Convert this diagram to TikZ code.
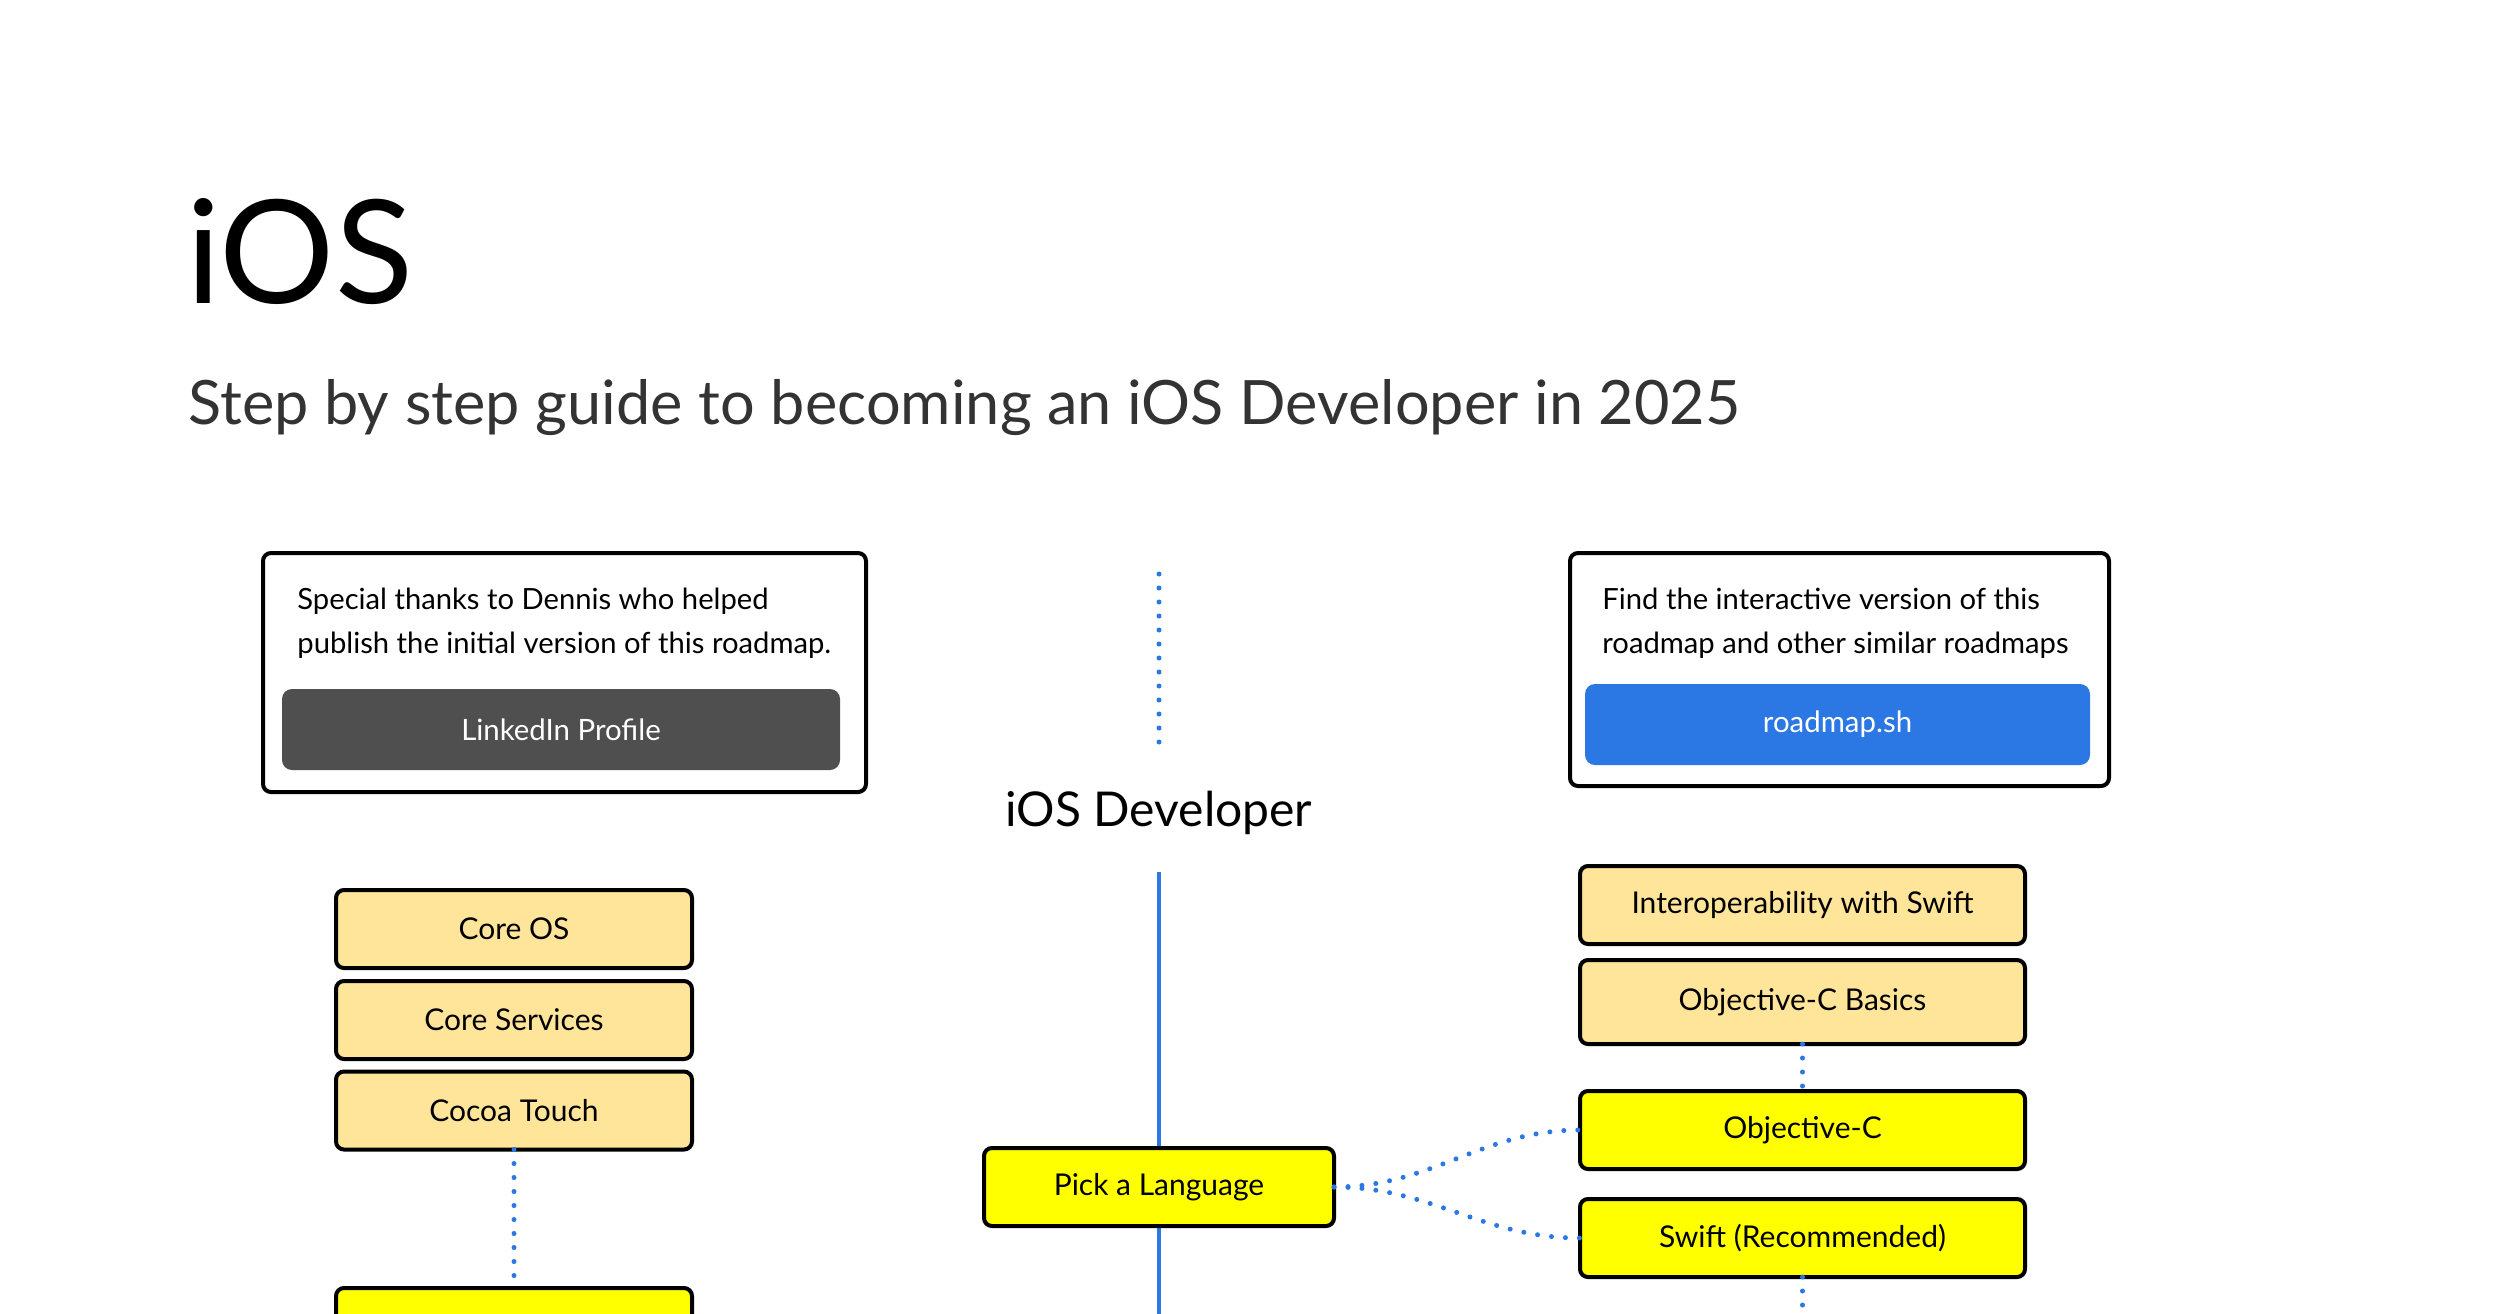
\documentclass[tikz,border=0pt]{standalone}
\usepackage{fontspec}
\setmainfont{Lato}
\definecolor{rmblue}{HTML}{2B78E4}
\definecolor{rmorange}{HTML}{FFE599}
\definecolor{rmyellow}{HTML}{FFFF00}
\definecolor{rmgray}{HTML}{4F4F4F}
\definecolor{subgray}{HTML}{333333}
\tikzset{
  topic/.style={draw=black, line width=2pt, rounded corners=4pt, fill=rmyellow,
    minimum width=178pt, minimum height=39pt, inner sep=0pt, outer sep=0pt,
    font=\fontsize{15}{17}\selectfont},
  subtopic/.style={topic, fill=rmorange},
  infobox/.style={draw=black, line width=2pt, rounded corners=4pt, fill=white, inner sep=0pt},
  button/.style={rounded corners=5pt, inner sep=0pt, text=white, font=\fontsize{14.7}{16}\selectfont},
  bodytext/.style={anchor=base west, inner sep=0pt, font=\fontsize{14.6}{16}\selectfont},
  dotline/.style={draw=rmblue, line width=2.5pt, line cap=round, dash pattern=on 0pt off 7pt},
  solidline/.style={draw=rmblue, line width=2pt}
}
\begin{document}
\begin{tikzpicture}[x=0.5pt,y=-0.5pt]
\useasboundingbox (0,0) rectangle (2500,1313);
\clip (0,0) rectangle (2500,1313);
\fill[white] (0,0) rectangle (2500,1313);

% titles
\node[anchor=base west, inner sep=0pt] (title) at (186,303) {\fontsize{72}{72}\selectfont iOS};
\node[anchor=base west, inner sep=0pt, text=subgray] (subtitle) at (188,424)
  {\fontsize{30.6}{32}\selectfont Step by step guide to becoming an iOS Developer in 2025};

% left info box
\node[infobox, minimum width=301.5pt, minimum height=119.5pt] (thanks) at (564.5,672.5) {};
\node[bodytext] (thanks1) at (297,609) {Special thanks to Dennis who helped};
\node[bodytext] (thanks2) at (297,653) {publish the initial version of this roadmap.};
\node[button, fill=rmgray, minimum width=279pt, minimum height=40.5pt] (linkedin) at (561,729.5) {LinkedIn Profile};

% right info box
\node[infobox, minimum width=269.5pt, minimum height=116.5pt] (find) at (1839.5,669.5) {};
\node[bodytext] (find1) at (1602,609) {Find the interactive version of this};
\node[bodytext] (find2) at (1602,653) {roadmap and other similar roadmaps};
\node[button, fill=rmblue, minimum width=252.5pt, minimum height=40.5pt] (rmsh) at (1837.5,724.5) {roadmap.sh};

% centre
\coordinate (topdot) at (1159,574);
\coordinate (botdot) at (1159,756);
\draw[dotline] (topdot) -- (botdot);
\node[inner sep=0pt] (iosdev) at (1159,813) {\fontsize{24}{26}\selectfont iOS Developer};
\coordinate (spinetop) at (1159,872);
\coordinate (spinebot) at (1159,1330);
\draw[solidline] (spinetop) -- (spinebot);

\node[topic, minimum width=175pt] (pick) at (1159,1187) {Pick a Language};

% left column
\node[subtopic] (coreos) at (514,929) {Core OS};
\node[subtopic] (coreserv) at (514,1020) {Core Services};
\node[subtopic] (cocoa) at (514,1110.5) {Cocoa Touch};
\node[topic, anchor=north] (nextleft) at (514,1288) {};
\draw[dotline] (cocoa.south) -- (nextleft.north);

% right column
\node[subtopic, minimum width=222.5pt] (interop) at (1802.5,905) {Interoperability with Swift};
\node[subtopic, minimum width=222.5pt, minimum height=42pt] (objcbasics) at (1802.5,1002) {Objective-C Basics};
\node[topic, minimum width=222.5pt] (objc) at (1802.5,1130) {Objective-C};
\node[topic, minimum width=222.5pt] (swift) at (1802.5,1238) {Swift (Recommended)};
\coordinate (swiftdown) at (1802.5,1330);

\draw[dotline] (objcbasics.south) -- (objc.north);
\draw[dotline] (swift.south) -- (swiftdown);
\draw[dotline] (pick.east) to[out=0,in=180] (objc.west);
\draw[dotline] (pick.east) to[out=0,in=180] (swift.west);
\end{tikzpicture}
\end{document}
